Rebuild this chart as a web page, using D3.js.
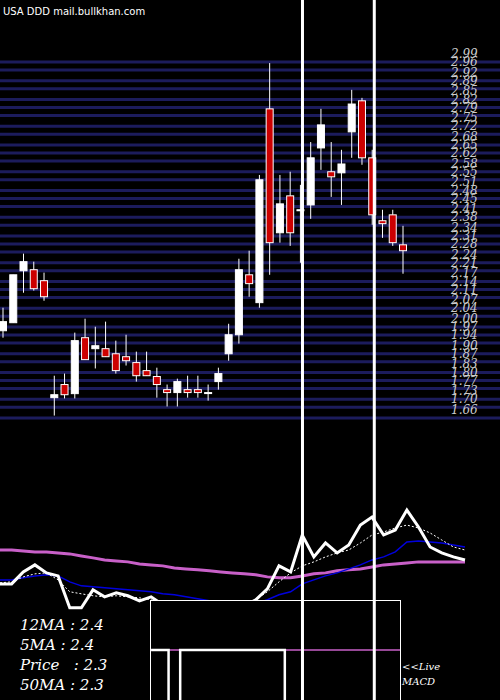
<!DOCTYPE html>
<html><head><meta charset="utf-8">
<script src="https://cdn.jsdelivr.net/npm/d3@7"></script>
<style>body{margin:0;background:#000}svg{display:block}</style>
</head><body><svg id="c" width="500" height="700"></svg>
<script>
// candles: open, high, low, close
const opens  = [1.986,2.016,2.210,2.214,2.173,1.736,1.785,1.751,1.960,1.919,1.919,1.900,1.889,1.867,1.837,1.815,1.766,1.755,1.766,1.766,1.755,1.796,1.900,1.971,2.195,2.091,2.815,2.352,2.490,2.438,2.456,2.669,2.580,2.576,2.729,2.845,2.632,2.397,2.419,2.307];
const highs  = [2.072,2.195,2.274,2.244,2.203,1.818,1.826,1.979,2.031,2.001,2.020,1.949,1.971,1.908,1.908,1.848,1.785,1.807,1.818,1.818,1.785,1.848,2.012,2.255,2.285,2.568,2.986,2.568,2.580,2.531,2.691,2.815,2.691,2.662,2.886,2.856,2.662,2.438,2.438,2.378];
const lows   = [1.960,2.016,2.128,2.136,2.098,1.669,1.733,1.733,1.878,1.845,1.889,1.826,1.856,1.796,1.818,1.736,1.703,1.703,1.736,1.736,1.725,1.766,1.874,1.938,2.113,2.072,2.195,2.315,2.303,2.240,2.404,2.587,2.486,2.456,2.632,2.606,2.382,2.333,2.303,2.199];
const closes = [2.020,2.195,2.244,2.143,2.113,1.747,1.747,1.949,1.878,1.930,1.889,1.837,1.874,1.818,1.818,1.785,1.755,1.796,1.755,1.755,1.755,1.826,1.971,2.214,2.162,2.550,2.315,2.460,2.352,2.438,2.632,2.755,2.561,2.609,2.833,2.632,2.419,2.386,2.315,2.285];

const priceTicks = [2.99,2.96,2.92,2.89,2.85,2.82,2.79,2.75,2.72,2.68,2.65,2.62,2.58,2.55,2.51,2.48,2.45,2.41,2.38,2.34,2.31,2.28,2.24,2.21,2.17,2.14,2.11,2.07,2.04,2.00,1.97,1.94,1.90,1.87,1.83,1.80,1.77,1.73,1.70,1.66];

// lower panel lines
const priceLine = [2.022,2.022,2.157,2.236,2.146,2.112,1.753,1.753,1.955,1.876,1.921,1.888,1.831,1.876,1.787,1.730,1.708,1.708,1.730,1.708,1.730,1.775,1.843,1.966,2.225,2.157,2.573,2.326,2.483,2.371,2.461,2.685,2.775,2.573,2.629,2.854,2.663,2.438,2.371,2.326,2.292];
const ma12 = [2.067,2.067,2.090,2.112,2.124,2.112,2.045,2.000,1.989,1.978,1.966,1.955,1.944,1.933,1.910,1.899,1.876,1.854,1.831,1.820,1.809,1.798,1.798,1.843,1.899,1.933,2.022,2.067,2.112,2.146,2.191,2.236,2.292,2.326,2.382,2.494,2.506,2.494,2.483,2.461,2.438];
const ma5 = [2.034,2.045,2.101,2.135,2.146,2.067,1.933,1.910,1.888,1.876,1.888,1.876,1.865,1.843,1.809,1.775,1.753,1.742,1.730,1.730,1.742,1.764,1.843,1.933,2.045,2.146,2.225,2.270,2.326,2.371,2.404,2.483,2.573,2.607,2.652,2.685,2.652,2.596,2.517,2.438,2.404];
const ma50 = [2.404,2.404,2.393,2.382,2.382,2.371,2.360,2.337,2.315,2.292,2.281,2.270,2.247,2.236,2.225,2.202,2.191,2.180,2.169,2.157,2.146,2.135,2.124,2.101,2.090,2.090,2.112,2.135,2.146,2.169,2.180,2.191,2.213,2.236,2.247,2.258,2.270,2.270,2.270,2.270,2.270];
const macd = [null,null,null,null,null,null,null,null,null,null,null,null,null,0,0,-1,0,0,0,0,0,0,0,0,0,-1,-1,-1,-1,-1,-1,-1,-1,-1,-1,-1,-1,-1,-1,-1,-1];

const labels = ["12MA : 2.4","5MA : 2.4","Price   : 2.3","50MA : 2.3"];

const svg = d3.select('#c');
svg.append('rect').attr('width',500).attr('height',700).attr('fill','#000');

const x = d3.scaleLinear().domain([0,39]).range([3,403]);
const y = d3.scaleLinear().domain([1.66,2.99]).range([418,62]);

// price grid
svg.append('g').selectAll('line').data(priceTicks).join('line')
  .attr('x1',0).attr('x2',500).attr('y1',d=>y(d)).attr('y2',d=>y(d))
  .attr('stroke','#1c1c5c').attr('stroke-width',3);
svg.append('g').selectAll('text').data(priceTicks).join('text')
  .attr('x',451).attr('y',d=>y(d)-4)
  .attr('fill','#ccc').attr('font-family','DejaVu Serif').attr('font-style','italic')
  .attr('font-size',12).text(d=>d.toFixed(2));

// candles
const idx = d3.range(opens.length);
const g = svg.append('g');
g.selectAll('line').data(idx).join('line')
  .attr('x1',i=>x(i)).attr('x2',i=>x(i))
  .attr('y1',i=>y(highs[i])).attr('y2',i=>y(lows[i]))
  .attr('stroke','#fff').attr('stroke-width',1);
g.selectAll('rect').data(idx).join('rect')
  .attr('x',i=>x(i)-3.5).attr('width',7)
  .attr('y',i=>y(Math.max(opens[i],closes[i])))
  .attr('height',i=>Math.max(1,Math.abs(y(opens[i])-y(closes[i]))))
  .attr('fill',i=>closes[i]>=opens[i]?'#fff':'#cc0000')
  .attr('stroke','#fff').attr('stroke-width',1);

svg.append('text').attr('x',3).attr('y',15).attr('fill','#fff')
  .attr('font-family','DejaVu Sans').attr('font-size',10).text('USA DDD mail.bullkhan.com');

// lower panel
const xl = d3.scaleLinear().domain([0,40]).range([0,465]);
const yl = d3.scaleLinear().domain([1.66,2.99]).range([616,498]);
const ln = d3.line().x((d,i)=>xl(i)).y(d=>yl(d));
svg.append('path').attr('d',ln(ma50)).attr('fill','none').attr('stroke','#c860c8').attr('stroke-width',3);
svg.append('path').attr('d',ln(ma12)).attr('fill','none').attr('stroke','#0000dd').attr('stroke-width',1.5);
svg.append('path').attr('d',ln(ma5)).attr('fill','none').attr('stroke','#fff').attr('stroke-width',1).attr('stroke-dasharray','2,2');
svg.append('path').attr('d',ln(priceLine)).attr('fill','none').attr('stroke','#fff').attr('stroke-width',3);

// macd box
svg.append('rect').attr('x',150.5).attr('y',600.5).attr('width',250).attr('height',110)
  .attr('fill','#000').attr('stroke','#fff').attr('stroke-width',1);
const ym = d3.scaleLinear().domain([-1,0]).range([760,650]);
svg.append('defs').append('clipPath').attr('id','mb').append('rect')
  .attr('x',151).attr('y',601).attr('width',249).attr('height',99);
svg.append('line').attr('x1',151).attr('x2',400).attr('y1',ym(0)).attr('y2',ym(0))
  .attr('stroke','#c860c8').attr('stroke-width',1.5);
svg.append('path').attr('clip-path','url(#mb)')
  .attr('d',d3.line().defined(d=>d!==null).curve(d3.curveStep).x((d,i)=>xl(i)).y(d=>ym(d))(macd))
  .attr('fill','none').attr('stroke','#fff').attr('stroke-width',2.5);

// vertical markers
svg.selectAll('.v').data([29.2,36.2]).join('line')
  .attr('x1',d=>x(d)).attr('x2',d=>x(d)).attr('y1',0).attr('y2',700)
  .attr('stroke','#fff').attr('stroke-width',3);

svg.append('g').selectAll('text').data(labels).join('text')
  .attr('x',20).attr('y',(d,i)=>630+i*20).attr('fill','#fff')
  .attr('font-family','DejaVu Serif').attr('font-style','italic').attr('font-size',15)
  .attr('xml:space','preserve').style('white-space','pre').text(d=>d);
svg.append('text').attr('x',402).attr('y',670).attr('fill','#fff')
  .attr('font-family','DejaVu Serif').attr('font-style','italic').attr('font-size',10).text('<<Live');
svg.append('text').attr('x',402).attr('y',685).attr('fill','#fff')
  .attr('font-family','DejaVu Serif').attr('font-style','italic').attr('font-size',10).text('MACD');
</script></body></html>
